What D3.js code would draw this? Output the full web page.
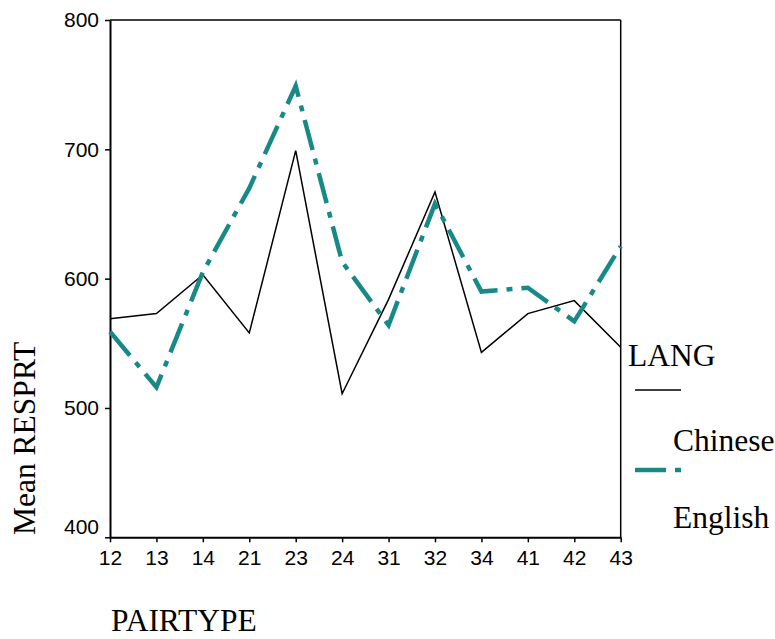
<!DOCTYPE html>
<html>
<head>
<meta charset="utf-8">
<script src="https://cdn.jsdelivr.net/npm/d3@7"></script>
<style>
  html, body { margin: 0; padding: 0; background: #fff; }
  svg { display: block; }
</style>
</head>
<body>
<svg id="chart" width="775" height="639"></svg>
<script>
// Mean response time by pair type, split by language group
const pairTypes = ["12", "13", "14", "21", "23", "24", "31", "32", "34", "41", "42", "43"];
const chineseRT = [569, 573, 603, 558, 699, 511, 584, 667, 543, 573, 583, 547];
const englishRT = [559, 516, 605, 670, 749, 613, 564, 658, 590, 593, 567, 625];
const yTicks = [400, 500, 600, 700, 800];
const seriesNames = ["Chinese", "English"];

const svg = d3.select("#chart");
const plotLeft = 110, plotRight = 620.7, plotTop = 20, plotBottom = 537.3;

const x = d3.scalePoint().domain(pairTypes).range([plotLeft, plotRight]).padding(0);
const y = d3.scaleLinear().domain([400, 800]).range([plotBottom, plotTop]);

const tickFont = "'Liberation Sans', Arial, sans-serif";
const titleFont = "'Liberation Serif', 'Times New Roman', serif";
const titleSize = 31.5;
const teal = "#178a87";
const dashDot = "31,9,6,9";

// Frame: top and right edges
svg.append("line").attr("x1", plotLeft).attr("x2", plotRight).attr("y1", plotTop).attr("y2", plotTop)
  .attr("stroke", "#000").attr("stroke-width", 1.5);
svg.append("line").attr("x1", plotRight).attr("x2", plotRight).attr("y1", plotTop).attr("y2", plotBottom)
  .attr("stroke", "#000").attr("stroke-width", 1.5);

// Y axis
const yAxis = svg.append("g")
  .attr("transform", `translate(${plotLeft},0)`)
  .call(d3.axisLeft(y).tickValues(yTicks).tickSize(5).tickSizeOuter(0).tickPadding(6));
yAxis.select(".domain").attr("stroke-width", 2);
yAxis.selectAll(".tick line").attr("stroke-width", 1.5);
yAxis.selectAll("text").attr("font-family", tickFont).attr("font-size", 21).attr("fill", "#000");
yAxis.selectAll(".tick text").filter(d => d === 400).attr("dy", "-0.16em");

// X axis
const xAxis = svg.append("g")
  .attr("transform", `translate(0,${plotBottom})`)
  .call(d3.axisBottom(x).tickSize(5).tickSizeOuter(0).tickPadding(8));
xAxis.select(".domain").attr("stroke-width", 2);
xAxis.selectAll(".tick line").attr("stroke-width", 1.5);
xAxis.selectAll("text").attr("font-family", tickFont).attr("font-size", 21).attr("fill", "#000");

// Lines
const line = d3.line().x((d, i) => x(pairTypes[i])).y(d => y(d));

svg.append("path").datum(chineseRT)
  .attr("d", line).attr("fill", "none")
  .attr("stroke", "#000").attr("stroke-width", 1.5).attr("stroke-linejoin", "miter");

svg.append("path").datum(englishRT)
  .attr("d", line).attr("fill", "none")
  .attr("stroke", teal).attr("stroke-width", 4.5)
  .attr("stroke-dasharray", dashDot).attr("stroke-linejoin", "miter");

// Axis titles
svg.append("text")
  .attr("x", 111).attr("y", 631)
  .attr("font-family", titleFont).attr("font-size", titleSize).attr("fill", "#000")
  .text("PAIRTYPE");

svg.append("text")
  .attr("transform", "translate(35,535) rotate(-90)")
  .attr("font-family", titleFont).attr("font-size", titleSize).attr("fill", "#000")
  .text("Mean RESPRT");

// Legend
const legend = svg.append("g");
legend.append("text")
  .attr("x", 628).attr("y", 366)
  .attr("font-family", titleFont).attr("font-size", titleSize).attr("fill", "#000")
  .text("LANG");

const legendRows = [
  { name: seriesNames[0], lineY: 390, textY: 451, color: "#000", width: 1.5, dash: null },
  { name: seriesNames[1], lineY: 470, textY: 528, color: teal, width: 4.5, dash: dashDot }
];
legendRows.forEach(r => {
  const l = legend.append("line")
    .attr("x1", 635).attr("x2", 681).attr("y1", r.lineY).attr("y2", r.lineY)
    .attr("stroke", r.color).attr("stroke-width", r.width);
  if (r.dash) l.attr("stroke-dasharray", r.dash);
  legend.append("text")
    .attr("x", 673).attr("y", r.textY)
    .attr("font-family", titleFont).attr("font-size", titleSize).attr("fill", "#000")
    .text(r.name);
});
</script>
</body>
</html>
